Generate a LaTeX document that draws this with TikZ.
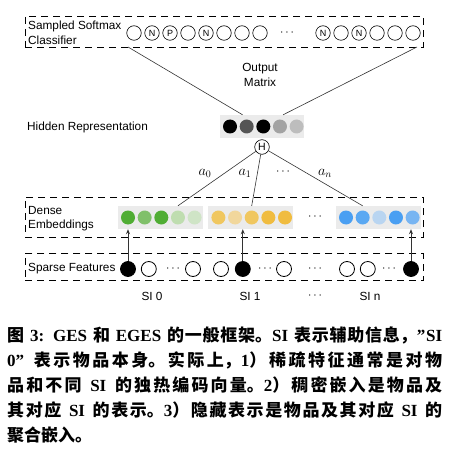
\documentclass[tikz,border=0pt]{standalone}
\usepackage{fontspec}
\setmainfont{Liberation Serif}
\newfontfamily\dsans{Liberation Sans}
\newfontfamily\cjk{Noto Sans CJK SC}
\usetikzlibrary{positioning, arrows.meta, calc}
\definecolor{muted}{HTML}{333333}
\definecolor{embBg}{HTML}{EBEBEB}
\definecolor{hidB}{HTML}{555555}
\definecolor{hidC}{HTML}{A3A3A3}
\definecolor{hidD}{HTML}{BDBDBD}
\definecolor{gnA}{HTML}{50AD34}
\definecolor{gnB}{HTML}{80C06A}
\definecolor{gnC}{HTML}{BFDDB0}
\definecolor{gnD}{HTML}{CFE4C6}
\definecolor{ywA}{HTML}{F0C760}
\definecolor{ywB}{HTML}{F1D79C}
\definecolor{ywC}{HTML}{F0BC40}
\definecolor{blA}{HTML}{4A9FF2}
\definecolor{blB}{HTML}{5AA8F2}
\definecolor{blC}{HTML}{B9D5F1}
\definecolor{blD}{HTML}{78B5F2}
\newcommand{\lt}[1]{{\rmfamily #1}}
\XeTeXlinebreaklocale "zh"
\XeTeXlinebreakskip=0pt plus 1pt
\begin{document}
\begin{tikzpicture}[x=1pt,y=-1pt,box/.style={draw, dash pattern=on 7pt off 5pt, line width=0.9pt, inner sep=0pt, minimum width=398pt},emb/.style={fill=embBg, minimum width=85pt, minimum height=23pt, inner sep=0pt},dot/.style={circle, minimum size=14pt, inner sep=0pt},topc/.style={circle, draw, line width=0.6pt, minimum size=14.5pt, inner sep=0pt, font=\dsans\fontsize{9}{9}\selectfont},spc/.style={circle, draw, line width=0.8pt, minimum size=15pt, inner sep=0pt},lbl/.style={font=\dsans\fontsize{11.8}{14.5}\selectfont, align=left, inner sep=0pt},con/.style={draw=muted, line width=0.6pt},arr/.style={-{Stealth[length=5pt, width=4pt]}, line width=0.9pt, color=muted},dots/.style={font=\fontsize{12}{12}\selectfont, inner sep=0pt},wgt/.style={font=\fontsize{14.5}{14.5}\selectfont, inner sep=0pt},capt/.style={text width=435pt, align=justify, inner sep=0pt, font=\cjk\bfseries\fontsize{17}{25}\selectfont}]
\useasboundingbox (0,0) rectangle (449,457);
% dashed layers
\node[box, minimum height=31pt] (soft) at (224,31.5) {};
\node[box, minimum height=40pt] (dense) at (224,217.2) {};
\node[box, minimum height=27.4pt] (sparse) at (224,267) {};
\node[lbl, anchor=west] (softlbl) at (28,33) {Sampled Softmax\\Classifier};
\node[lbl, anchor=west] (denselbl) at (28,218.5) {Dense\\Embeddings};
\node[lbl, anchor=west] (sparselbl) at (28,269) {Sparse Features};
\node[lbl, anchor=west] (hidlbl) at (27,127) {Hidden Representation};
\node[lbl, align=center] (outlbl) at (260,75) {Output\\Matrix};
% sampled softmax
\node[topc] (c1) at (134,33) {};
\node[topc, right=2.9pt of c1] (c2) {N}; \node[topc, right=2.9pt of c2] (c3) {P}; \node[topc, right=2.9pt of c3] (c4) {};
\node[topc, right=2.9pt of c4] (c5) {N}; \node[topc, right=2.9pt of c5] (c6) {}; \node[topc, right=2.9pt of c6] (c7) {};
\node[topc, right=2.9pt of c7] (c8) {};
\node[dots] (cdots) at (287,33) {$\cdots$};
\node[topc] (c9) at (323,33) {N};
\node[topc, right=2.9pt of c9] (c10) {}; \node[topc, right=2.9pt of c10] (c11) {N}; \node[topc, right=2.9pt of c11] (c12) {};
\node[topc, right=2.9pt of c12] (c13) {}; \node[topc, right=2.9pt of c13] (c14) {};
% hidden representation
\node[emb, minimum width=84pt] (hid) at (262,126.5) {};
\node[dot, fill=black, right=3pt of hid.west] (h1) {}; \node[dot, fill=hidB, right=2.25pt of h1] (h2) {};
\node[dot, fill=black, right=2.25pt of h2] (h3) {}; \node[dot, fill=hidC, right=2.25pt of h3] (h4) {};
\node[dot, fill=hidD, right=2.25pt of h4] (h5) {};
\node[topc, minimum size=14.6pt, font=\dsans\fontsize{10.5}{10.5}\selectfont, below=1.2pt of hid] (H) {H};
% dense embeddings
\node[emb] (grn) at (160.5,217.5) {};
\node[dot, fill=gnA, right=3pt of grn.west] (g1) {}; \node[dot, fill=gnB, right=2.25pt of g1] (g2) {};
\node[dot, fill=gnA, right=2.25pt of g2] (g3) {}; \node[dot, fill=gnC, right=2.25pt of g3] (g4) {};
\node[dot, fill=gnD, right=2.25pt of g4] (g5) {};
\node[emb, right=5pt of grn] (yel) {};
\node[dot, fill=ywA, right=3pt of yel.west] (y1) {}; \node[dot, fill=ywB, right=2.25pt of y1] (y2) {};
\node[dot, fill=ywA, right=2.25pt of y2] (y3) {}; \node[dot, fill=ywC, right=2.25pt of y3] (y4) {};
\node[dot, fill=ywC, right=2.25pt of y4] (y5) {};
\node[dots] (edots) at (315,217) {$\cdots$};
\node[emb] (blu) at (378.5,217.5) {};
\node[dot, fill=blA, right=3pt of blu.west] (b1) {}; \node[dot, fill=blB, right=2.25pt of b1] (b2) {};
\node[dot, fill=blC, right=2.25pt of b2] (b3) {}; \node[dot, fill=blA, right=2.25pt of b3] (b4) {};
\node[dot, fill=blD, right=2.25pt of b4] (b5) {};
% sparse features
\node[spc, fill=black] (s1) at (128,269) {}; \node[spc, right=5pt of s1] (s2) {};
\node[dots] (sd1) at (173,269) {$\cdots$}; \node[spc] (s3) at (193,269) {};
\node[spc] (s4) at (221,269) {}; \node[spc, fill=black, right=6pt of s4] (s5) {};
\node[dots] (sd2) at (265,269) {$\cdots$}; \node[spc] (s6) at (284,269) {};
\node[dots] (sd3) at (315,269) {$\cdots$};
\node[spc] (s7) at (347,269) {}; \node[spc, right=5pt of s7] (s8) {};
\node[dots] (sd4) at (389,269) {$\cdots$}; \node[spc, fill=black] (s9) at (411,269) {};
\node[lbl] (si0) at (152,296) {SI 0}; \node[lbl] (si1) at (250,296) {SI 1};
\node[dots] (sidots) at (315,296) {$\cdots$}; \node[lbl] (sin) at (370,296) {SI n};
% connectors
\coordinate (ol) at (128,47); \coordinate (or) at (417,47);
\coordinate (hl) at ($(hid.north west)!0.27!(hid.north east)$); \coordinate (hr) at ($(hid.north west)!0.75!(hid.north east)$);
\draw[con] (ol) -- (hl); \draw[con] (or) -- (hr);
\draw[con] (H) -- (g4 |- grn.north); \draw[con] (H) -- (y3 |- yel.north); \draw[con] (H) -- (b2 |- blu.north);
\node[wgt] (a0) at (205,173) {$a_0$}; \node[wgt] (a1) at (245,173) {$a_1$};
\node[dots] (adots) at (283,172) {$\cdots$}; \node[wgt] (an) at (325,173) {$a_n$};
\draw[arr] (s1.north) -- (s1 |- grn.south); \draw[arr] (s5.north) -- (s5 |- yel.south); \draw[arr] (s9.north) -- (s9 |- blu.south);
% caption
\node[capt, anchor=north west] (cap) at (7,326.5) {图\lt{ 3: GES }和\lt{ EGES }的一般框架。\lt{SI }表示辅助信息，\lt{”SI}\linebreak\lt{0” }表示物品本身。实际上，\lt{1}）稀疏特征通常是对物\linebreak 品和不同\lt{ SI }的独热编码向量。\lt{2}）稠密嵌入是物品及\linebreak 其对应\lt{ SI }的表示。\lt{3}）隐藏表示是物品及其对应\lt{ SI }的\linebreak 聚合嵌入。};
\end{tikzpicture}
\end{document}
